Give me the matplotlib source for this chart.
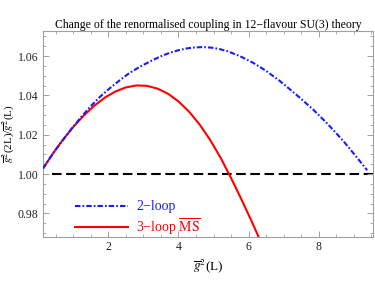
import numpy as np
import matplotlib
matplotlib.use("Agg")
import matplotlib.pyplot as plt
from matplotlib.ticker import MultipleLocator, FormatStrFormatter

# --- data ---
g2_two_loop = [0.134, 0.5, 0.96, 1.2, 1.48, 1.76, 2.05, 2.33, 2.6, 2.9, 3.2, 3.47,
               3.75, 4.0, 4.23, 4.45, 4.7, 4.95, 5.17, 5.4, 5.75, 6.12, 6.5, 6.88,
               7.2, 7.45, 7.83, 8.2, 8.5, 8.75, 9.05, 9.38]
ratio_two_loop = [1.0029, 1.0125, 1.0233, 1.0285, 1.0342, 1.0393, 1.0438, 1.0478,
                  1.0514, 1.0546, 1.0574, 1.0597, 1.0617, 1.0630, 1.0639, 1.0644,
                  1.0646, 1.0643, 1.0636, 1.0625, 1.0600, 1.0567, 1.0525, 1.0475,
                  1.0428, 1.0390, 1.0330, 1.0265, 1.0208, 1.0158, 1.0093, 1.0020]

g2_three_loop = [0.134, 0.4, 0.7, 1.0, 1.3, 1.6, 1.9, 2.2, 2.5, 2.8, 3.1, 3.4, 3.7,
                 4.0, 4.3, 4.6, 4.9, 5.2, 5.5, 5.8, 6.1, 6.4]
ratio_three_loop = [1.0027, 1.0100, 1.0174, 1.0240, 1.0298, 1.0348, 1.0389, 1.0420,
                    1.0441, 1.0451, 1.0449, 1.0435, 1.0409, 1.0370, 1.0318, 1.0253,
                    1.0175, 1.0084, 0.9980, 0.9870, 0.9755, 0.9635]

labels = ["2\u2212loop", "3\u2212loop $\\overline{\\mathrm{MS}}$"]
title = "Change of the renormalised coupling in 12\u2212flavour SU(3) theory"

plt.rcParams['font.family'] = ['Liberation Serif', 'DejaVu Serif']
plt.rcParams['mathtext.fontset'] = 'stix'
plt.rcParams['font.size'] = 9

fig = plt.figure(figsize=(3.75, 2.92), dpi=100)
ax = fig.add_axes([0.114, 0.188, 0.881, 0.706])

ax.hlines(1.0, 0.4, 9.55, color='black', lw=1.5, linestyles=[(0, (4.6, 2.2))], zorder=1)
ax.plot(g2_three_loop, ratio_three_loop, color='#ff0000', lw=1.5, label=labels[1], zorder=2)
ax.plot(g2_two_loop, ratio_two_loop, color='#1a1aff', lw=1.5,
        dashes=(2.6, 1.0, 0.8, 1.0), label=labels[0], zorder=3)

ax.set_xlim(0.13, 9.55)
ax.set_ylim(0.968, 1.0728)

ax.xaxis.set_major_locator(MultipleLocator(2))
ax.xaxis.set_minor_locator(MultipleLocator(0.5))
ax.yaxis.set_major_locator(MultipleLocator(0.02))
ax.yaxis.set_minor_locator(MultipleLocator(0.005))
ax.yaxis.set_major_formatter(FormatStrFormatter('%.2f'))

for s in ax.spines.values():
    s.set_color('#a0a0a0')
    s.set_linewidth(0.8)
ax.tick_params(which='both', direction='in', top=True, right=True, color='#a0a0a0',
               labelsize=8.5, labelcolor='#222222', pad=3)
ax.tick_params(which='major', length=4, width=0.7)
ax.tick_params(which='minor', length=2, width=0.6)

ax.set_title(title, fontsize=8.5, pad=2)
ax.set_xlabel("$\\overline{g}^{2}$(L)", fontsize=9.5, labelpad=3)
ax.set_ylabel("$\\overline{g}^{2}$(2L)/$\\overline{g}^{2}$(L)", fontsize=8)
ax.yaxis.set_label_coords(-0.078, 0.5)

h, l = ax.get_legend_handles_labels()
ax.legend(h[::-1], l[::-1], loc='lower left', bbox_to_anchor=(0.06, -0.06), frameon=False,
          handlelength=3.8, handletextpad=0.6, labelspacing=0.22, fontsize=10,
          labelcolor='linecolor')

fig.savefig("out.png", dpi=100)
